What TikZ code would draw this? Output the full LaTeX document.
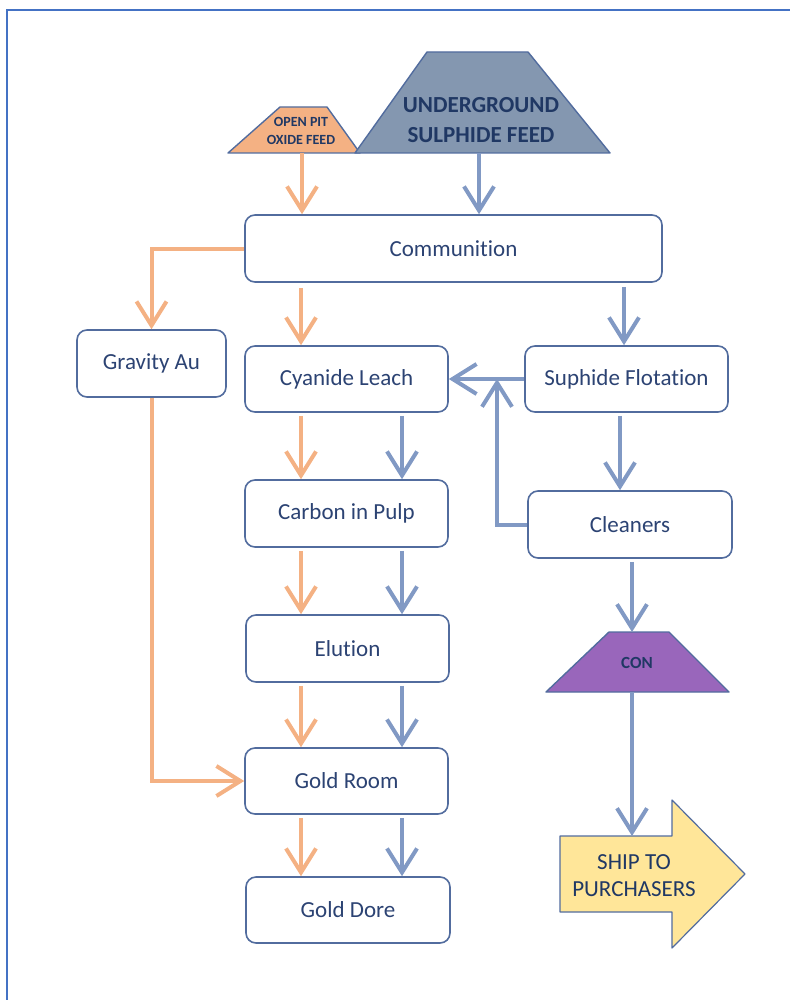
\documentclass[tikz,border=0pt]{standalone}
\usepackage{fontspec}
\setmainfont{Carlito}[Ligatures=NoCommon]
\usetikzlibrary{arrows.meta,positioning}

\definecolor{oxide}{HTML}{F4B183}
\definecolor{sulph}{HTML}{8497B0}
\definecolor{flowblue}{HTML}{8199C4}
\definecolor{boxedge}{HTML}{526C9E}
\definecolor{ink}{HTML}{203864}
\definecolor{boxink}{HTML}{2C4373}
\definecolor{conc}{HTML}{9966BB}
\definecolor{shipfill}{HTML}{FFE699}
\definecolor{frameblue}{HTML}{4472C4}

\tikzset{
  stage/.style={draw=boxedge, line width=1.6pt, rounded corners=10pt, fill=white,
    text=boxink, font=\fontsize{23}{27}\selectfont, inner sep=0pt,
    minimum width=203pt, minimum height=66pt},
  feedline/.style={draw=boxedge, line width=1.4pt, line join=round},
  capslabel/.style={text=ink, font=\bfseries, align=center, inner sep=0pt},
  orearrow/.style={draw=oxide, line width=4pt, -{Straight Barb[length=24pt,width=30pt]}},
  sulpharrow/.style={draw=flowblue, line width=4pt, -{Straight Barb[length=24pt,width=30pt]}},
}

\begin{document}
\begin{tikzpicture}[x=1pt,y=-1pt]
    \useasboundingbox (0,0) rectangle (790,1000);
    % frame
    \draw[frameblue, line width=2pt] (7,1000) -- (7,10) -- (790,10);

    % Feeds
    \draw[feedline, fill=oxide] (228,153) -- (280,107) -- (327,107) -- (360,153) -- cycle;
    \node[capslabel, font=\bfseries\fontsize{14}{18}\selectfont] (pit) at (301,131) {OPEN PIT\\OXIDE FEED};
    \coordinate (pitbase) at (302,153);
    \draw[feedline, fill=sulph] (355,153) -- (427,52) -- (528,52) -- (610,153) -- cycle;
    \node[capslabel, font=\bfseries\fontsize{23}{30}\selectfont] (ug) at (481,120) {UNDERGROUND\\SULPHIDE FEED};
    \coordinate (ugbase) at (479,153);

    % Process stages
    \node[stage, minimum width=417pt, minimum height=67pt] (comm) at (453.5,248.5) {Communition};
    \node[stage, minimum width=149pt, minimum height=67pt] (grav) at (151.5,363.5) {Gravity Au};
    \node[stage] (cyan) at (346.5,379) {Cyanide Leach};
    \node[stage] (flot) at (626.5,379) {Suphide Flotation};
    \node[stage, minimum width=204pt, minimum height=67pt] (clean) at (630,524.5) {Cleaners};
    \node[stage, minimum height=67pt] (cip) at (346.5,513.5) {Carbon in Pulp};
    \node[stage, minimum height=67pt] (elu) at (347.5,648.5) {Elution};
    \node[stage] (groom) at (346.5,781) {Gold Room};
    \node[stage, minimum width=204pt] (dore) at (348,910) {Gold Dore};

    % Concentrate and shipping
    \draw[feedline, fill=conc] (546,692) -- (609,632) -- (669,632) -- (729,692) -- cycle;
    \node[capslabel, font=\bfseries\fontsize{17}{20}\selectfont] (con) at (637,663) {CON};
    \coordinate (contop) at (632,632);
    \coordinate (conbase) at (632,692);
    \draw[feedline, fill=shipfill, line width=1.2pt] (560,836) -- (672,836) -- (672,800) -- (745,874)
        -- (672,948) -- (672,912) -- (560,912) -- cycle;
    \node[text=ink, font=\fontsize{23}{27}\selectfont, align=center, inner sep=0pt] (ship) at (634,876) {SHIP TO\\PURCHASERS};
    \coordinate (shiptop) at (632,836);

    % Columns for parallel flows
    \coordinate (ocol) at (301,0);
    \coordinate (bcol) at (402,0);
    \coordinate (fcol) at (620,0);
    \coordinate (ccol) at (632,0);
    \coordinate (merge) at (497,379);

    % Oxide (orange) flows
    \draw[orearrow] (pitbase) -- (comm.north -| pitbase);
    \draw[orearrow] (comm.west) -| (grav.north);
    \draw[orearrow, shorten <=5pt] (comm.south -| ocol) -- (cyan.north -| ocol);
    \draw[orearrow, shorten <=3pt] (cyan.south -| ocol) -- (cip.north -| ocol);
    \draw[orearrow, shorten <=3pt] (cip.south -| ocol) -- (elu.north -| ocol);
    \draw[orearrow, shorten <=3pt] (elu.south -| ocol) -- (groom.north -| ocol);
    \draw[orearrow, shorten <=3pt] (groom.south -| ocol) -- (dore.north -| ocol);
    \draw[orearrow] (grav.south) |- (groom.west);

    % Sulphide (blue) flows
    \draw[sulpharrow] (ugbase) -- (comm.north -| ugbase);
    \draw[sulpharrow, shorten <=4pt] (comm.south -| 624,0) -- (flot.north -| 624,0);
    \draw[sulpharrow] (flot.west) -- (cyan.east);
    \draw[sulpharrow, shorten <=3pt] (flot.south -| fcol) -- (clean.north -| fcol);
    \draw[sulpharrow] (clean.west) -| (merge);
    \draw[sulpharrow, shorten <=3pt] (cyan.south -| bcol) -- (cip.north -| bcol);
    \draw[sulpharrow, shorten <=3pt] (cip.south -| bcol) -- (elu.north -| bcol);
    \draw[sulpharrow, shorten <=3pt] (elu.south -| bcol) -- (groom.north -| bcol);
    \draw[sulpharrow, shorten <=3pt] (groom.south -| bcol) -- (dore.north -| bcol);
    \draw[sulpharrow, shorten <=3pt] (clean.south -| ccol) -- (contop);
    \draw[sulpharrow] (conbase) -- (shiptop);
\end{tikzpicture}
\end{document}
